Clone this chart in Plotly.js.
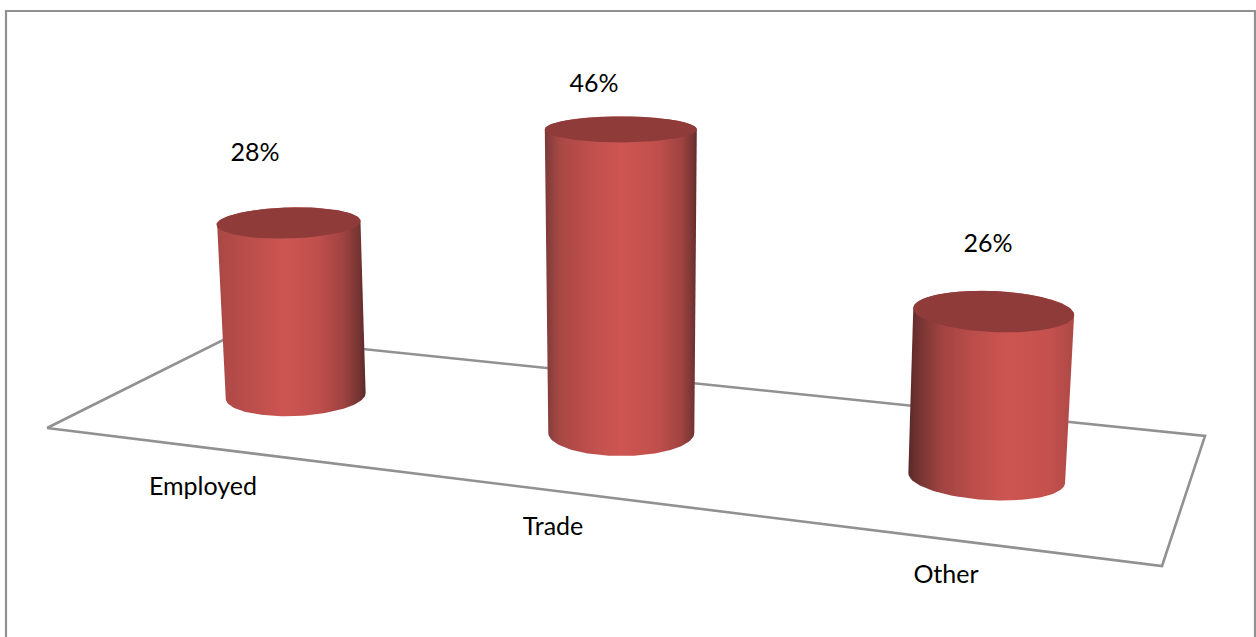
<!DOCTYPE html>
<html>
<head>
<meta charset="utf-8">
<script src="https://cdn.plot.ly/plotly-3.0.1.min.js"></script>
<style>html,body{margin:0;padding:0;background:#fff}#chart{width:1256px;height:637px}</style>
</head>
<body>
<div id="chart"></div>
<script>
// Income source shares
const categories = ['Employed', 'Trade', 'Other'];
const shares = [28, 46, 26];

// Projection of each column on the tilted floor (page pixels)
const baseCx = [295.7, 621.3, 986.7];
const baseCy = [396, 433, 478];
const pxPerPoint = [6.18, 6.6, 6.4];
const lean = [-7.2, -0.5, 7];
const topRadiusX = [72, 76, 80.5];
const topRadiusY = [15.5, 13, 20.5];
const baseRadiusX = [70, 73, 78.5];
const baseRadiusY = [20, 23, 22];
const topTilt = [-0.028, 0, 0.044];
const baseTilt = [-0.043, 0, 0.066];

// Label anchors
const shareLabelX = [255, 594, 988];
const shareLabelY = [155, 86, 246];
const categoryLabelX = [203, 553, 946];
const categoryLabelY = [489, 529, 577];

// Floor outline and chart border
const floorX = [47, 232, 1205, 1162, 47];
const floorY = [428, 335.5, 436, 566, 428];
const frameX = [6, 6, 1255, 1255];
const frameY = [637, 11, 11, 637];

const frameColor = '#919191';
const capColor = '#8f3b3a';
const bodyShades = [
  [[0, '#a94846'], [0.22, '#bb4e4b'], [0.46, '#cd5551'], [0.68, '#bf4f4c'], [0.85, '#9f4341'], [0.95, '#773533'], [1, '#5c2a29']],
  [[0, '#7c3a38'], [0.1, '#a84845'], [0.3, '#bf4f4c'], [0.5, '#ce5551'], [0.75, '#bf4f4c'], [0.9, '#a04341'], [0.97, '#783635'], [1, '#622d2c']],
  [[0, '#592928'], [0.08, '#7a3634'], [0.2, '#a04341'], [0.38, '#b94d4a'], [0.6, '#cd5551'], [0.85, '#c4514e'], [1, '#ad4946']]
];

// Point on a tilted ellipse at parameter t
function ellipsePoint(cx, cy, rx, ry, tilt, t) {
  const ex = rx * Math.cos(t), ey = ry * Math.sin(t);
  return [cx + ex * Math.cos(tilt) - ey * Math.sin(tilt),
          cy + ex * Math.sin(tilt) + ey * Math.cos(tilt)];
}

function arc(cx, cy, rx, ry, tilt, from, to, n) {
  const pts = [];
  for (let i = 0; i <= n; i++) {
    pts.push(ellipsePoint(cx, cy, rx, ry, tilt, from + (to - from) * i / n));
  }
  return pts;
}

const traces = [];

traces.push({
  x: frameX, y: frameY, mode: 'lines', hoverinfo: 'skip', showlegend: false,
  line: {color: frameColor, width: 2.2}
});
traces.push({
  x: floorX, y: floorY, mode: 'lines', hoverinfo: 'skip', showlegend: false,
  line: {color: frameColor, width: 2.6, simplify: false}
});

categories.forEach((name, i) => {
  const topCy = baseCy[i] - shares[i] * pxPerPoint[i];
  const topCx = baseCx[i] + lean[i];
  // Side wall: front arc of the base, then back across the top
  const wall = arc(baseCx[i], baseCy[i], baseRadiusX[i], baseRadiusY[i], baseTilt[i], 0, Math.PI, 72)
    .concat(arc(topCx, topCy, topRadiusX[i], topRadiusY[i], topTilt[i], Math.PI, 2 * Math.PI, 72));
  traces.push({
    x: wall.map(p => p[0]), y: wall.map(p => p[1]),
    mode: 'lines', fill: 'toself', line: {width: 0},
    fillgradient: {type: 'horizontal', colorscale: bodyShades[i]},
    name: name, hoverinfo: 'skip', showlegend: false
  });
  const cap = arc(topCx, topCy, topRadiusX[i], topRadiusY[i], topTilt[i], 0, 2 * Math.PI, 120);
  traces.push({
    x: cap.map(p => p[0]), y: cap.map(p => p[1]),
    mode: 'lines', fill: 'toself', line: {width: 0},
    fillcolor: capColor, hoverinfo: 'skip', showlegend: false
  });
});

const labelFont = {family: 'Lato, Open Sans, sans-serif', size: 25, color: '#000000'};
traces.push({
  x: shareLabelX, y: shareLabelY, mode: 'text',
  text: shares.map(v => v + '%'), textposition: 'middle center',
  textfont: labelFont, hoverinfo: 'skip', showlegend: false
});
traces.push({
  x: categoryLabelX, y: categoryLabelY, mode: 'text',
  text: categories, textposition: 'middle center',
  textfont: labelFont, hoverinfo: 'skip', showlegend: false
});

const layout = {
  width: 1256, height: 637,
  margin: {l: 0, r: 0, t: 0, b: 0},
  paper_bgcolor: '#ffffff', plot_bgcolor: '#ffffff',
  showlegend: false,
  xaxis: {range: [0, 1256], visible: false, fixedrange: true},
  yaxis: {range: [637, 0], visible: false, fixedrange: true}
};

Plotly.newPlot('chart', traces, layout, {displayModeBar: false, staticPlot: true});
</script>
</body>
</html>
